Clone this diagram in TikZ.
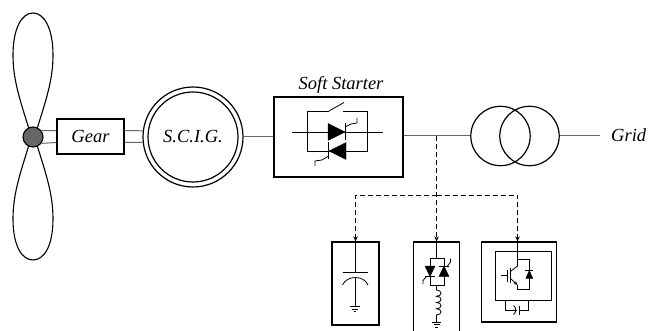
\documentclass[tikz,border=0pt]{standalone}
\usepackage{fontspec}
\setmainfont{Liberation Serif}
\usetikzlibrary{arrows.meta}
\begin{document}
\begin{tikzpicture}[x=1pt,y=-1pt,
  box/.style={draw, line width=1.2pt, inner sep=0pt},
  wire/.style={line width=1pt, draw=black!60},
  dev/.style={line width=0.8pt},
  feed/.style={line width=0.8pt, dash pattern=on 5pt off 3pt, -{Stealth[length=5pt,width=4.5pt]}},
  lbl/.style={font=\itshape\fontsize{18.5}{20}\selectfont, inner sep=0pt},
  tri/.style={fill=black, draw=black, line width=0.4pt}
]
\useasboundingbox (0,0) rectangle (650,331);

% ---- rotor ----
\draw[line width=1.1pt] (29,129) .. controls (20,100) and (13,80) .. (13,55)
  .. controls (13,28) and (22,13) .. (33,13) .. controls (44,13) and (53,28) .. (53,55)
  .. controls (53,80) and (46,100) .. (37,129);
\draw[line width=1.1pt] (29,145) .. controls (20,174) and (13,194) .. (13,219)
  .. controls (13,246) and (22,260) .. (33,260) .. controls (44,260) and (53,246) .. (53,219)
  .. controls (53,194) and (46,174) .. (37,145);
\node[circle, draw, line width=1.1pt, fill=black!60, minimum size=20pt, inner sep=0pt] (hub) at (33,137) {};

% ---- drive train ----
\node[box, lbl, minimum width=67pt, minimum height=35pt] (gear) at (90.5,136.5) {Gear};
\node[circle, draw, line width=1.2pt, minimum size=100pt, lbl] (scig) at (193,137) {S.C.I.G.};
\draw[line width=1.2pt] (scig.center) circle[radius=45pt];

\draw[wire] (hub.37) -- ([yshift=6pt]gear.west);
\draw[wire] (hub.-37) -- ([yshift=-6pt]gear.west);
\draw[wire] ([yshift=6pt]gear.east) -- (scig.173.1);
\draw[wire] ([yshift=-6pt]gear.east) -- (scig.186.9);

% ---- soft starter ----
\node[box, minimum width=129pt, minimum height=80pt] (ss) at (338.5,137) {};
\node[lbl, anchor=base] (sslabel) at (341,90) {Soft Starter};
\draw[wire] (scig.east) -- (ss.west);

\begin{scope}[dev]
  \draw (292,132) -- (383,132);
  \draw (329,111) -- (307,111) -- (307,151) -- (367,151) -- (367,111) -- (343,111);
  \draw (329,111) -- (344,102.5);
  % forward thyristor
  \filldraw[tri] (328,123.5) -- (328,140.5) -- (345,132) -- cycle;
  \draw (345,123.5) -- (345,140.5);
  \draw (345,127) -- (351,124) -- (357,123) -- (357,118);
  % reverse thyristor
  \filldraw[tri] (346,142.5) -- (346,159.5) -- (329,151) -- cycle;
  \draw (328.5,142.5) -- (328.5,159.5);
  \draw (328.5,156) -- (322,160) -- (315,161) -- (315,166);
\end{scope}

% ---- transformer and grid ----
\node[circle, draw, line width=1.2pt, minimum size=59.4pt, inner sep=0pt] (t1) at (500.5,136) {};
\node[circle, draw, line width=1.2pt, minimum size=59.4pt, inner sep=0pt] (t2) at (529.5,136) {};
\node[lbl, anchor=base west] (grid) at (611,141.7) {Grid};
\draw[wire] (ss.east |- 0,136) -- (t1.west);
\draw[wire] (t2.east) -- (600,136);

% ---- compensation branches ----
\node[box, minimum width=47pt, minimum height=83pt] (cap) at (355.5,283.5) {};
\node[box, minimum width=46pt, minimum height=94pt] (tcr) at (436.5,289) {};
\node[box, minimum width=75pt, minimum height=80pt] (stc) at (519,282) {};

\coordinate (tap) at (436.5,136);
\coordinate (bus) at (436.5,195);
\draw[feed] (tap) -- (tcr.north);
\draw[feed] (bus) -| (cap.north);
\draw[feed] (bus) -| ([xshift=-1.5pt]stc.north);

% fixed capacitor
\begin{scope}[dev]
  \draw (355.5,242) -- (355.5,272);
  \draw (342.5,272) -- (368,272);
  \draw (342.5,285) .. controls (347,275) and (364,275) .. (368,285);
  \draw (355.5,277.5) -- (355.5,306.5);
  \draw (350,306.5) -- (360,306.5);
  \draw (352,309) -- (358,309);
  \draw (354,311.5) -- (356,311.5);
\end{scope}

% thyristor controlled reactor
\begin{scope}[dev]
  \draw (436.5,242) -- (436.5,258);
  \draw (430,258) rectangle (444,285);
  \filldraw[tri] (425,266) -- (435,266) -- (430,276.5) -- cycle;
  \draw (425,276.5) -- (435,276.5);
  \draw (426.5,276.5) -- (423,280.5) -- (423,284);
  \filldraw[tri] (439,276.5) -- (449,276.5) -- (444,266) -- cycle;
  \draw (439,266) -- (449,266);
  \draw (447.5,266) -- (450.5,262) -- (450.5,258.5);
  \draw (436.5,285) -- (436.5,290)
    .. controls (442.5,290) and (442.5,296.25) .. (436.5,296.25)
    .. controls (442.5,296.25) and (442.5,302.5) .. (436.5,302.5)
    .. controls (442.5,302.5) and (442.5,308.75) .. (436.5,308.75)
    .. controls (442.5,308.75) and (442.5,315) .. (436.5,315)
    -- (436.5,322);
  \draw (432,322) -- (441,322);
  \draw (433.5,324.5) -- (439.5,324.5);
  \draw (435,327) -- (438,327);
\end{scope}

% STATCOM: converter leg with dc capacitor
\begin{scope}[dev]
  \draw (495,251.7) rectangle (551,300.7);
  \draw (517.5,242) -- (517.5,259) -- (529.3,259) -- (529.3,289.3) -- (517.5,289.3) -- (517.5,285);
  \draw (517.5,259) -- (517.5,266) -- (510.5,271.5);
  \draw[line width=1.2pt] (510.5,268) -- (510.5,283);
  \draw (507.3,270) -- (507.3,282);
  \draw (501,275.7) -- (507.3,275.7);
  \draw[-{Stealth[length=4pt,width=3.5pt]}] (510.5,278.5) -- (517.5,285);
  \filldraw[tri] (525.8,278.5) -- (532.8,278.5) -- (529.3,270.5) -- cycle;
  \draw (525.3,270.5) -- (533.3,270.5);
  \draw (505.7,300.7) -- (505.7,310) -- (516.5,310);
  \draw (513.5,305.5) .. controls (516.5,307.5) and (516.5,312.5) .. (513.5,314.5);
  \draw (519.5,305.5) -- (519.5,314.5);
  \draw (519.5,310) -- (528.3,310) -- (528.3,300.7);
\end{scope}
\end{tikzpicture}
\end{document}
